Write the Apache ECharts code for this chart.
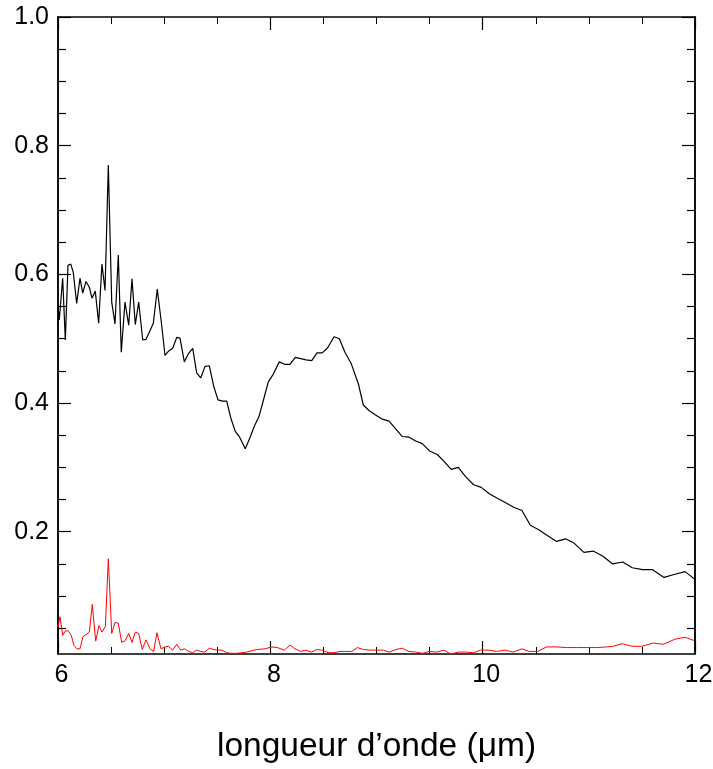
<!DOCTYPE html>
<html>
<head>
<meta charset="utf-8">
<script src="https://cdn.jsdelivr.net/npm/echarts@6/dist/echarts.min.js"></script>
<style>
  html, body { margin: 0; padding: 0; background: #fff; }
  #chart { width: 713px; height: 769px; }
</style>
</head>
<body>
<div id="chart"></div>
<script>
// Spectrum (black) and its uncertainty (red), wavelength in µm
const waveBlack = [6.00, 6.012, 6.044, 6.069, 6.094, 6.120, 6.144, 6.176, 6.207, 6.233, 6.264, 6.295, 6.320, 6.351, 6.383, 6.414, 6.443, 6.474, 6.506, 6.537, 6.568, 6.596, 6.631, 6.666, 6.697, 6.728, 6.760, 6.798, 6.829, 6.860, 6.898, 6.935, 6.973, 7.008, 7.043, 7.080, 7.118, 7.149, 7.190, 7.229, 7.269, 7.306, 7.344, 7.385, 7.425, 7.467, 7.507, 7.548, 7.589, 7.629, 7.670, 7.711, 7.764, 7.808, 7.849, 7.893, 7.934, 7.981, 8.028, 8.084, 8.138, 8.185, 8.235, 8.286, 8.336, 8.390, 8.439, 8.489, 8.540, 8.600, 8.650, 8.703, 8.760, 8.829, 8.876, 8.932, 8.995, 9.055, 9.118, 9.181, 9.243, 9.306, 9.369, 9.431, 9.504, 9.573, 9.638, 9.704, 9.770, 9.843, 9.915, 9.987, 10.062, 10.138, 10.217, 10.292, 10.370, 10.449, 10.528, 10.609, 10.697, 10.782, 10.863, 10.954, 11.042, 11.133, 11.225, 11.319, 11.409, 11.507, 11.601, 11.708, 11.811, 11.906, 12.00];
const fluxBlack = [0.552, 0.529, 0.594, 0.498, 0.614, 0.616, 0.603, 0.555, 0.594, 0.571, 0.589, 0.580, 0.563, 0.574, 0.524, 0.616, 0.575, 0.770, 0.557, 0.523, 0.630, 0.479, 0.557, 0.521, 0.593, 0.522, 0.557, 0.498, 0.499, 0.510, 0.524, 0.577, 0.526, 0.474, 0.481, 0.485, 0.502, 0.501, 0.464, 0.477, 0.485, 0.447, 0.439, 0.457, 0.458, 0.426, 0.405, 0.403, 0.403, 0.376, 0.356, 0.347, 0.329, 0.346, 0.364, 0.379, 0.404, 0.433, 0.445, 0.464, 0.460, 0.460, 0.471, 0.469, 0.467, 0.466, 0.478, 0.478, 0.486, 0.503, 0.500, 0.479, 0.462, 0.430, 0.397, 0.388, 0.381, 0.375, 0.372, 0.360, 0.348, 0.347, 0.341, 0.337, 0.325, 0.320, 0.309, 0.297, 0.300, 0.285, 0.273, 0.269, 0.259, 0.252, 0.245, 0.238, 0.233, 0.210, 0.203, 0.194, 0.185, 0.189, 0.182, 0.168, 0.170, 0.162, 0.150, 0.153, 0.144, 0.141, 0.141, 0.129, 0.134, 0.138, 0.126];

const waveRed = [6.00, 6.019, 6.044, 6.069, 6.097, 6.125, 6.151, 6.179, 6.207, 6.235, 6.264, 6.295, 6.323, 6.355, 6.386, 6.414, 6.446, 6.474, 6.506, 6.537, 6.568, 6.600, 6.634, 6.666, 6.697, 6.728, 6.760, 6.794, 6.829, 6.867, 6.901, 6.932, 6.970, 7.008, 7.043, 7.080, 7.118, 7.156, 7.193, 7.231, 7.269, 7.306, 7.344, 7.382, 7.425, 7.463, 7.500, 7.545, 7.589, 7.636, 7.683, 7.730, 7.777, 7.872, 7.950, 8.013, 8.066, 8.132, 8.185, 8.232, 8.286, 8.333, 8.386, 8.437, 8.487, 8.543, 8.600, 8.656, 8.710, 8.766, 8.819, 8.876, 8.939, 9.002, 9.064, 9.120, 9.184, 9.243, 9.303, 9.369, 9.435, 9.497, 9.567, 9.636, 9.699, 9.770, 9.840, 9.912, 9.981, 10.053, 10.132, 10.210, 10.289, 10.368, 10.439, 10.518, 10.603, 10.697, 10.791, 10.886, 10.980, 11.074, 11.168, 11.231, 11.315, 11.404, 11.498, 11.607, 11.701, 11.811, 11.906, 11.990];
const fluxRed = [0.052, 0.068, 0.039, 0.046, 0.046, 0.039, 0.023, 0.018, 0.018, 0.037, 0.040, 0.044, 0.087, 0.030, 0.054, 0.044, 0.053, 0.158, 0.042, 0.059, 0.058, 0.028, 0.031, 0.042, 0.028, 0.044, 0.042, 0.017, 0.032, 0.018, 0.014, 0.043, 0.018, 0.021, 0.022, 0.016, 0.025, 0.016, 0.018, 0.014, 0.012, 0.016, 0.014, 0.013, 0.019, 0.017, 0.016, 0.016, 0.012, 0.011, 0.011, 0.012, 0.013, 0.017, 0.018, 0.021, 0.020, 0.016, 0.024, 0.018, 0.014, 0.016, 0.013, 0.017, 0.016, 0.012, 0.012, 0.014, 0.014, 0.014, 0.020, 0.017, 0.016, 0.016, 0.016, 0.013, 0.017, 0.019, 0.014, 0.013, 0.011, 0.014, 0.013, 0.016, 0.010, 0.013, 0.013, 0.012, 0.016, 0.016, 0.014, 0.016, 0.013, 0.018, 0.014, 0.014, 0.021, 0.021, 0.020, 0.020, 0.020, 0.020, 0.021, 0.022, 0.026, 0.022, 0.022, 0.027, 0.025, 0.033, 0.036, 0.031];

// Tick values
const yMajorTicks = [0.2, 0.4, 0.6, 0.8, 1.0];
const yMinorTicks = [0.05, 0.1, 0.15, 0.25, 0.3, 0.35, 0.45, 0.5, 0.55, 0.65, 0.7, 0.75, 0.85, 0.9, 0.95];
const xAxisTitle = 'longueur d\u2019onde (\u03bcm)';

const FONT = '"Liberation Sans", Arial, Helvetica, sans-serif';
const AXIS_LINE = { show: true, lineStyle: { color: '#000', width: 1.5 } };

function pairs(xs, ys) { return xs.map((x, i) => [x, ys[i]]); }

function xAxisDef(pos, withLabels) {
  return {
    type: 'value', position: pos, min: 6, max: 12, interval: 2,
    axisLine: AXIS_LINE,
    axisTick: { show: true, inside: true, length: 13, lineStyle: { color: '#000', width: 1.2 } },
    minorTick: { show: true, splitNumber: 4, length: 7, lineStyle: { color: '#000', width: 1 } },
    axisLabel: { show: withLabels, color: '#000', fontSize: 25, fontFamily: FONT, margin: 9, padding: [0, 0, 0, 7] },
    splitLine: { show: false }, minorSplitLine: { show: false },
    name: withLabels ? xAxisTitle : '',
    nameLocation: 'middle', nameGap: 76,
    nameTextStyle: { color: '#000', fontSize: 33.5, fontFamily: FONT }
  };
}

function yAxisDef(pos, ticks, len, withLabels) {
  return {
    type: 'value', position: pos, min: 0.01, max: 1.0,
    axisLine: AXIS_LINE,
    axisTick: { show: true, inside: true, length: len, customValues: ticks, lineStyle: { color: '#000', width: 1.2 } },
    axisLabel: {
      show: withLabels, customValues: ticks, color: '#000', fontSize: 25, fontFamily: FONT, margin: 9,
      formatter: v => Number(v).toFixed(1)
    },
    splitLine: { show: false }
  };
}

const chart = echarts.init(document.getElementById('chart'), null, { renderer: 'canvas' });
chart.setOption({
  animation: false,
  backgroundColor: '#fff',
  grid: { left: 58, top: 17, width: 637, height: 637, containLabel: false, outerBoundsMode: 'none' },
  xAxis: [xAxisDef('bottom', true), xAxisDef('top', false)],
  yAxis: [
    yAxisDef('left', yMajorTicks, 13, true),
    yAxisDef('left', yMinorTicks, 8, false),
    yAxisDef('right', yMajorTicks, 13, false),
    yAxisDef('right', yMinorTicks, 8, false)
  ],
  series: [
    {
      type: 'line', xAxisIndex: 0, yAxisIndex: 0, data: pairs(waveBlack, fluxBlack),
      showSymbol: false, symbol: 'none', clip: true,
      lineStyle: { color: '#000', width: 1.2 }
    },
    {
      type: 'line', xAxisIndex: 0, yAxisIndex: 0, data: pairs(waveRed, fluxRed),
      showSymbol: false, symbol: 'none', clip: true,
      lineStyle: { color: '#ff0000', width: 1 }
    }
  ]
});
</script>
</body>
</html>
